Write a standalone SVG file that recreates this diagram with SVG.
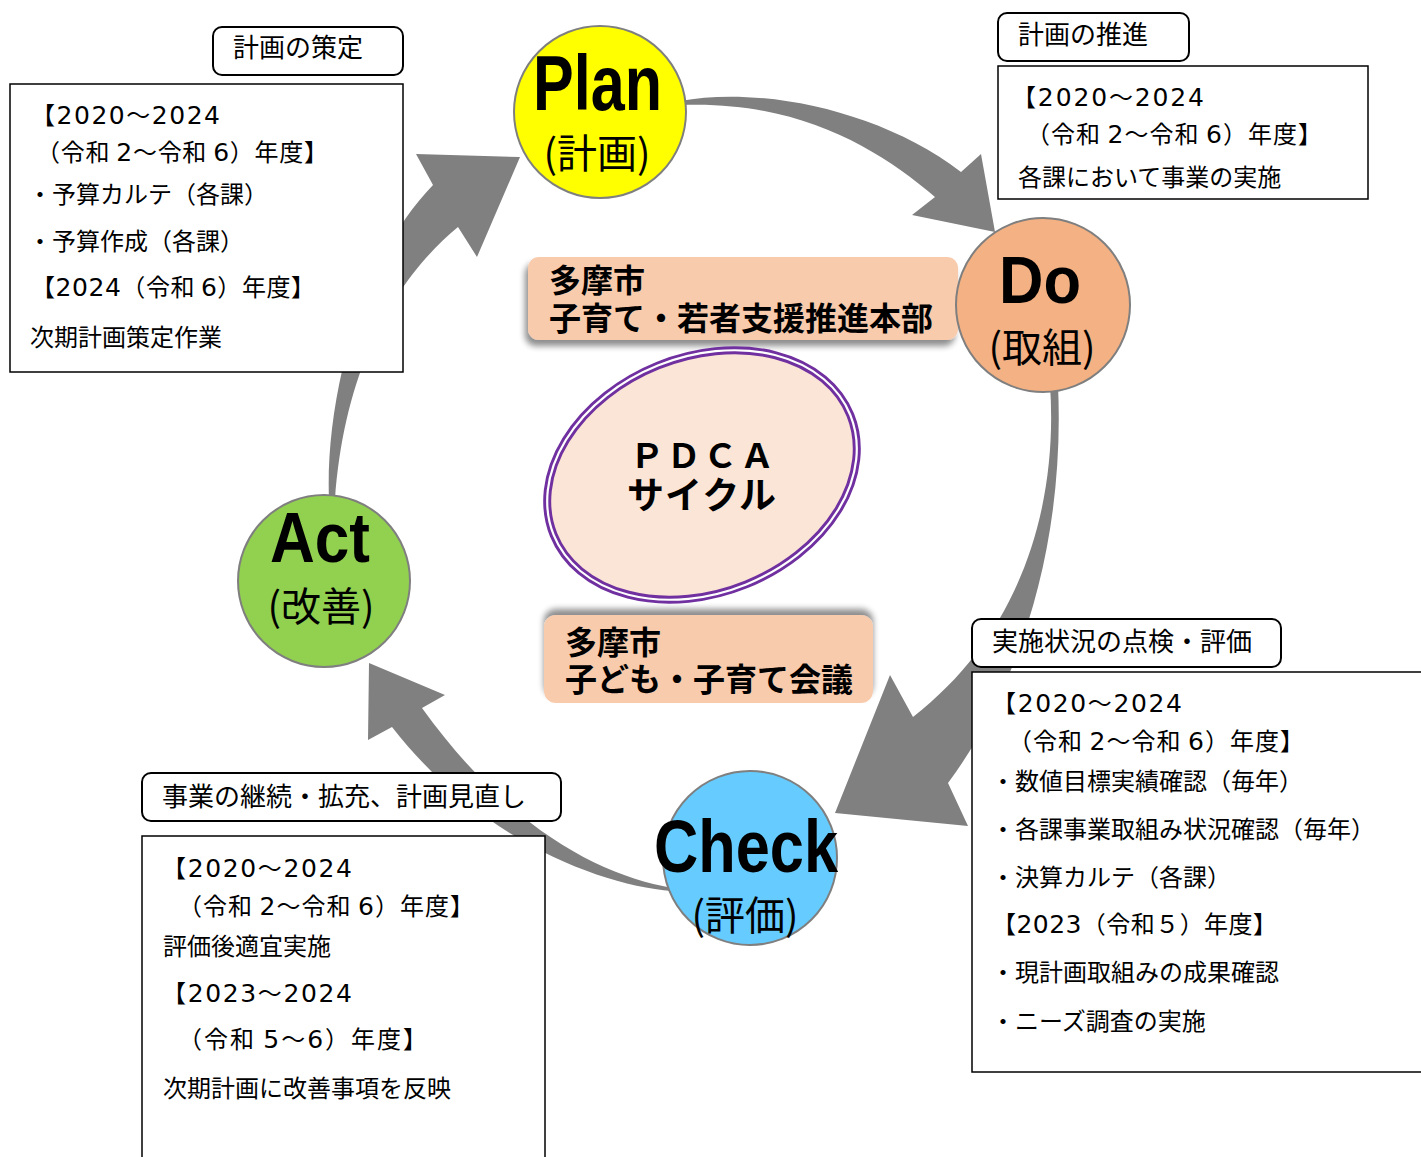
<svg xmlns="http://www.w3.org/2000/svg" width="1421" height="1157" viewBox="0 0 1421 1157">
<defs>
<style>
.arrow{fill:#808080;stroke:none}
.circ{stroke:#7f7f7f;stroke-width:2}
.big{font-family:"Liberation Sans",Arial,sans-serif;font-weight:bold;fill:#000}
.par{font-family:"Noto Sans CJK JP",sans-serif;font-size:40px;fill:#000;text-anchor:middle}
.lbl{fill:#fff;stroke:#000;stroke-width:2}
.lbltxt{font-family:"Noto Sans CJK JP",sans-serif;font-size:26px;fill:#000}
.box{fill:#fff;stroke:#000;stroke-width:1.5}
.t{font-family:"Noto Sans CJK JP",sans-serif;font-size:24px;fill:#000}
.d{font-family:"DejaVu Sans",sans-serif;font-size:25px}
.peach{fill:#f8cbad}
.pt{font-family:"Noto Sans CJK JP",sans-serif;font-size:32px;font-weight:bold;fill:#000}
.ct{font-family:"Noto Sans CJK JP",sans-serif;font-weight:bold;fill:#000}
</style>
<filter id="shDown" x="-10%" y="-20%" width="120%" height="150%">
<feGaussianBlur in="SourceAlpha" stdDeviation="3"/>
<feOffset dx="-3" dy="6" result="b"/>
<feComponentTransfer><feFuncA type="linear" slope="0.45"/></feComponentTransfer>
<feMerge><feMergeNode/><feMergeNode in="SourceGraphic"/></feMerge>
</filter>
<filter id="shUp" x="-10%" y="-30%" width="120%" height="150%">
<feGaussianBlur in="SourceAlpha" stdDeviation="3"/>
<feOffset dx="0" dy="-6" result="b"/>
<feComponentTransfer><feFuncA type="linear" slope="0.45"/></feComponentTransfer>
<feMerge><feMergeNode/><feMergeNode in="SourceGraphic"/></feMerge>
</filter>
</defs>
<rect width="1421" height="1157" fill="#fff"/>

<g id="connectors">
<path id="arrow-plan-do" class="arrow" d="M 680,101 C 760,86 880,110 961,172 L 981,154 L 995,232 L 912,215 L 935,197 C 880,150 800,100 680,105 Z"/>
<path id="arrow-do-check" class="arrow" d="M 1050,385 L 1058,385 C 1066,560 1010,700 948,783 L 968,826 L 835,813 L 890,675 L 913,717 C 1025,630 1058,500 1050,385 Z"/>
<path id="arrow-check-act" class="arrow" d="M 672,888 C 600,875 510,830 422,708 L 445,695 L 369,663 L 368,740 L 392,727 C 480,840 600,885 672,891 Z"/>
<path id="arrow-act-plan" class="arrow" d="M 329,500 C 325,400 360,260 433,185 L 416,154 L 520,157 L 477,257 L 458,227 C 400,275 345,360 335,500 Z"/>
</g>

<g id="note-plan">
<rect class="lbl" x="213" y="27" width="190" height="48" rx="9"/>
<text class="lbltxt" x="233" y="57">計画の策定</text>
<rect class="box" x="10" y="84" width="393" height="288"/>
<text class="t" x="31" y="124" textLength="189">【<tspan class="d">2020</tspan>～<tspan class="d">2024</tspan></text>
<text class="t" x="36" y="161" textLength="292">（令和 <tspan class="d">2</tspan>～令和 <tspan class="d">6</tspan>）年度】</text>
<text class="t" x="28" y="203">・予算カルテ（各課）</text>
<text class="t" x="28" y="250">・予算作成（各課）</text>
<text class="t" x="31" y="296" textLength="284">【<tspan class="d">2024</tspan>（令和 <tspan class="d">6</tspan>）年度】</text>
<text class="t" x="30" y="346">次期計画策定作業</text>
</g>

<g id="note-do">
<rect class="lbl" x="998" y="13" width="191" height="48" rx="9"/>
<text class="lbltxt" x="1018" y="44">計画の推進</text>
<rect class="box" x="998" y="66" width="370" height="133"/>
<text class="t" x="1012" y="106" textLength="192">【<tspan class="d">2020</tspan>～<tspan class="d">2024</tspan></text>
<text class="t" x="1026" y="143" textLength="296">（令和 <tspan class="d">2</tspan>～令和 <tspan class="d">6</tspan>）年度】</text>
<text class="t" x="1018" y="186">各課において事業の実施</text>
</g>

<g id="note-check">
<rect class="lbl" x="972" y="619" width="309" height="48" rx="9"/>
<text class="lbltxt" x="992" y="651">実施状況の点検・評価</text>
<rect class="box" x="972" y="672" width="460" height="400"/>
<text class="t" x="992" y="712" textLength="190">【<tspan class="d">2020</tspan>～<tspan class="d">2024</tspan></text>
<text class="t" x="1008" y="750" textLength="296">（令和 <tspan class="d">2</tspan>～令和 <tspan class="d">6</tspan>）年度】</text>
<text class="t" x="991" y="790">・数値目標実績確認（毎年）</text>
<text class="t" x="991" y="838">・各課事業取組み状況確認（毎年）</text>
<text class="t" x="991" y="886">・決算カルテ（各課）</text>
<text class="t" x="992" y="933" textLength="285">【<tspan class="d">2023</tspan>（令和５）年度】</text>
<text class="t" x="991" y="981">・現計画取組みの成果確認</text>
<text class="t" x="991" y="1030">・ニーズ調査の実施</text>
</g>

<g id="note-act">
<rect class="lbl" x="142" y="773" width="419" height="48" rx="9"/>
<text class="lbltxt" x="162" y="806">事業の継続・拡充、計画見直し</text>
<rect class="box" x="142" y="836" width="403" height="340"/>
<text class="t" x="162" y="877" textLength="190">【<tspan class="d">2020</tspan>～<tspan class="d">2024</tspan></text>
<text class="t" x="178" y="915" textLength="296">（令和 <tspan class="d">2</tspan>～令和 <tspan class="d">6</tspan>）年度】</text>
<text class="t" x="163" y="955">評価後適宜実施</text>
<text class="t" x="162" y="1002" textLength="190">【<tspan class="d">2023</tspan>～<tspan class="d">2024</tspan></text>
<text class="t" x="178" y="1048" textLength="249">（令和 <tspan class="d">5</tspan>～<tspan class="d">6</tspan>）年度】</text>
<text class="t" x="163" y="1097">次期計画に改善事項を反映</text>
</g>

<g id="org-honbu">
<rect class="peach" x="528" y="257" width="430" height="83" rx="11" filter="url(#shDown)"/>
<text class="pt" x="549" y="292">多摩市</text>
<text class="pt" x="549" y="330">子育て・若者支援推進本部</text>
</g>

<g id="org-kaigi">
<rect class="peach" x="544" y="615" width="329" height="88" rx="12" filter="url(#shUp)"/>
<text class="pt" x="565" y="654">多摩市</text>
<text class="pt" x="565" y="691">子ども・子育て会議</text>
</g>

<g id="node-pdca">
<ellipse cx="702" cy="475" rx="160" ry="118" transform="rotate(-22 702 475)" fill="#fbe5d6" stroke="#7030a0" stroke-width="8"/>
<ellipse cx="702" cy="475" rx="160" ry="118" transform="rotate(-22 702 475)" fill="none" stroke="#fff" stroke-width="2.2"/>
<text class="ct" x="630" y="468" font-size="34" textLength="144">ＰＤＣＡ</text>
<text class="ct" x="627" y="509" font-size="37" textLength="149">サイクル</text>
</g>

<g id="node-plan">
<circle class="circ" cx="600" cy="112" r="86" fill="#ffff00"/>
<text class="big" x="533" y="110" font-size="77" textLength="129" lengthAdjust="spacingAndGlyphs">Plan</text>
<text class="par" x="597" y="168">(計画)</text>
</g>

<g id="node-do">
<circle class="circ" cx="1043" cy="305" r="87" fill="#f4b183"/>
<text class="big" x="999" y="303" font-size="67" textLength="82" lengthAdjust="spacingAndGlyphs">Do</text>
<text class="par" x="1042" y="362">(取組)</text>
</g>

<g id="node-act">
<circle class="circ" cx="324" cy="581" r="86" fill="#92d050"/>
<text class="big" x="270" y="562" font-size="70" textLength="100" lengthAdjust="spacingAndGlyphs">Act</text>
<text class="par" x="321" y="621">(改善)</text>
</g>

<g id="node-check">
<circle class="circ" cx="750" cy="858" r="87" fill="#66ccff"/>
<text class="big" x="654" y="872" font-size="75" textLength="184" lengthAdjust="spacingAndGlyphs">Check</text>
<text class="par" x="745" y="930">(評価)</text>
</g>
</svg>
